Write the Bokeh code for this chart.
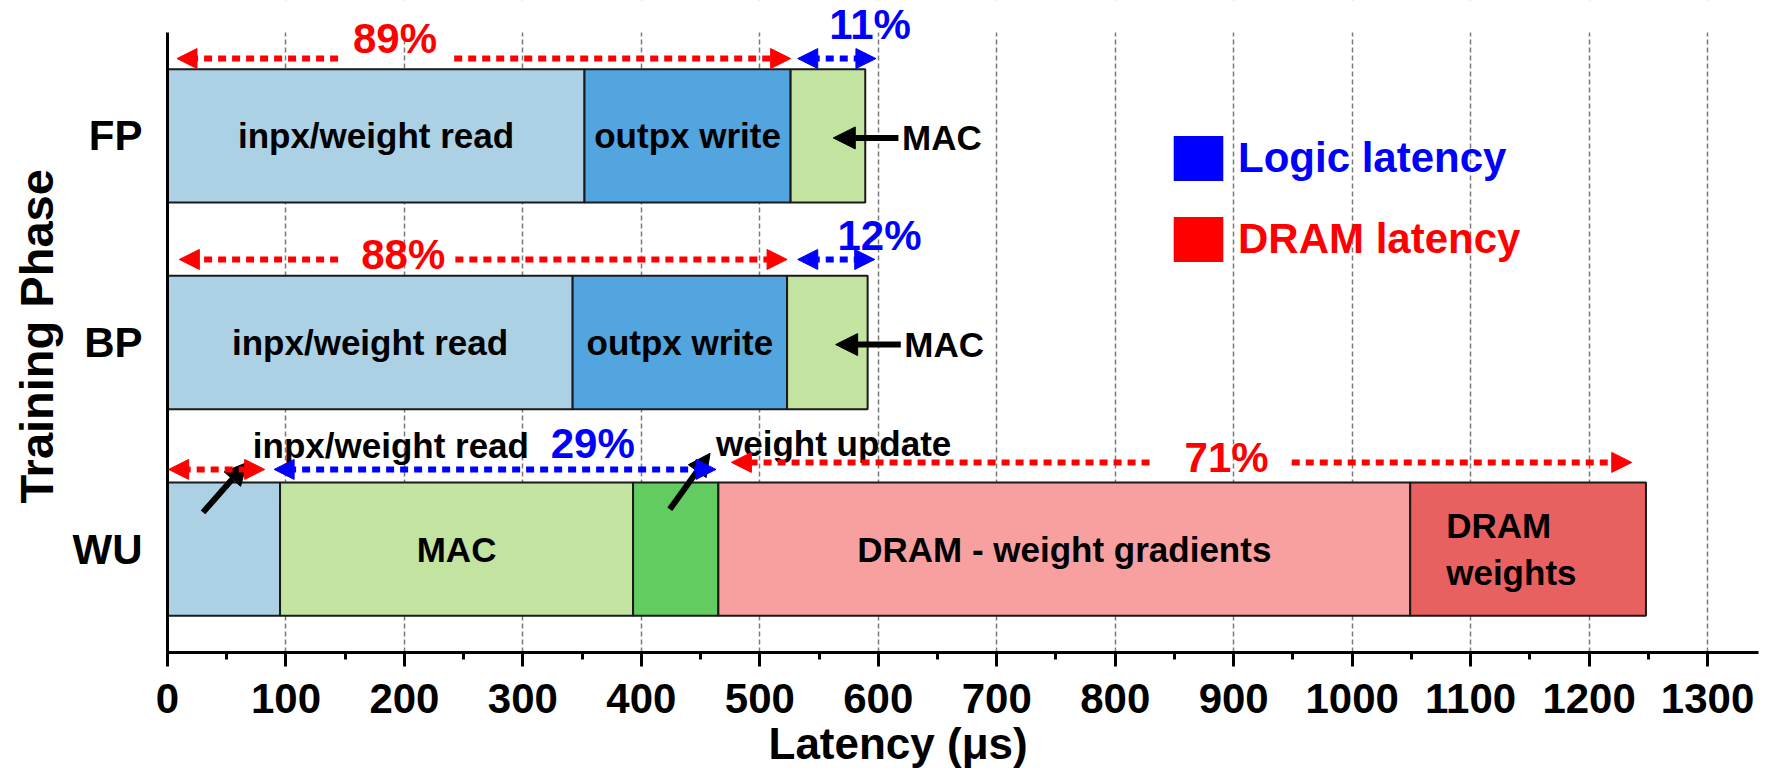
from bokeh.plotting import figure
from bokeh.models import (ColumnDataSource, Arrow, NormalHead, LabelSet, Legend, Title,
                          LegendItem, SingleIntervalTicker, FixedTicker, BoxAnnotation)
from bokeh.embed import file_html
from bokeh.resources import INLINE
from bokeh.core.properties import value, field

# ---------------- data ----------------
phases = ["WU", "BP", "FP"]                      # bottom -> top
fp_segments = ["inpx/weight read", "outpx write", "MAC"]
fp_values = [352, 174, 63]
bp_segments = ["inpx/weight read", "outpx write", "MAC"]
bp_values = [342, 181, 68]
wu_segments = ["inpx/weight read", "MAC", "weight update",
               "DRAM - weight gradients", "DRAM weights"]
wu_values = [95, 298, 72, 584, 199]
pct_dram = {"FP": "89%", "BP": "88%", "WU": "71%"}
pct_logic = {"FP": "11%", "BP": "12%", "WU": "29%"}
legend_labels = ["Logic latency", "DRAM latency"]
x_label = "Latency (\u03bcs)"
y_label = "Training Phase"

# ---------------- style ----------------
FONT = "Liberation Sans"
RED = "#FF0000"
BLUE = "#0000FF"
NAN = float("nan")
seg_colors = {"inpx/weight read": "#ACD0E4", "outpx write": "#52A5DE", "MAC": "#C3E4A0",
              "weight update": "#62CC60", "DRAM - weight gradients": "#F8A0A0",
              "DRAM weights": "#E96060"}
BAR_H = 0.645
inside_labels = {"FP": ["inpx/weight read", "outpx write"],
                 "BP": ["inpx/weight read", "outpx write"],
                 "WU": ["MAC", "DRAM - weight gradients", "DRAM weights"]}

rows = {"FP": (fp_segments, fp_values), "BP": (bp_segments, bp_values),
        "WU": (wu_segments, wu_values)}

p = figure(width=1771, height=783, output_backend="svg", toolbar_location=None,
           x_range=(0, 1343), y_range=(-0.5, 2.655),
           min_border_left=167, min_border_right=13, min_border_top=0,
           min_border_bottom=131)
p.outline_line_color = None
p.background_fill_color = "white"

# bars
q = dict(left=[], right=[], bottom=[], top=[], color=[])
t_c = dict(x=[], y=[], text=[])
t_l = dict(x=[], y=[], text=[])
bounds = {}
for name, (segs, vals) in rows.items():
    y = phases.index(name)
    start = 0
    edges = [0]
    for s, v in zip(segs, vals):
        q["left"].append(start); q["right"].append(start + v)
        q["bottom"].append(y - BAR_H / 2); q["top"].append(y + BAR_H / 2)
        q["color"].append(seg_colors[s])
        if s in inside_labels[name]:
            if s == "DRAM weights":
                t_l["x"].append(start); t_l["y"].append(y); t_l["text"].append("DRAM\nweights")
            else:
                t_c["x"].append(start + v / 2); t_c["y"].append(y); t_c["text"].append(s)
        start += v
        edges.append(start)
    bounds[name] = edges

# hide grid above the plotting area (axis stops at 2.5)
p.add_layout(BoxAnnotation(bottom=2.5, fill_color="white", fill_alpha=1.0,
                           line_color=None, level="underlay"))

p.quad(left="left", right="right", bottom="bottom", top="top", fill_color="color",
       line_color="#1a1a1a", line_width=2, source=ColumnDataSource(q))
p.text(x="x", y="y", text="text", source=ColumnDataSource(t_c), text_align="center",
       text_baseline="middle", text_font=value(FONT), text_font_style="bold",
       text_font_size="35px", text_color="black")
p.text(x="x", y="y", text="text", source=ColumnDataSource(t_l), text_align="left",
       text_baseline="middle", text_font=value(FONT), text_font_style="bold",
       text_font_size="35px", text_color="black", x_offset=36, text_line_height=1.2)

# MAC callouts for FP / BP
mac = dict(x=[], y=[], text=[])
mac_arr = dict(xs=[], ys=[], xe=[], ye=[])
for name in ["FP", "BP"]:
    tot = bounds[name][-1]
    y = phases.index(name) - 0.01
    mac["x"].append(tot + 31); mac["y"].append(y); mac["text"].append("MAC")
    mac_arr["xs"].append(tot + 28); mac_arr["ys"].append(y)
    mac_arr["xe"].append(tot - 27); mac_arr["ye"].append(y)
p.text(x="x", y="y", text="text", source=ColumnDataSource(mac), text_align="left",
       text_baseline="middle", text_font=value(FONT), text_font_style="bold",
       text_font_size="35px", text_color="black")

# WU callouts
wb = bounds["WU"]
wu_txt = dict(x=[wb[1] - 23, wb[3] - 2], y=[0.50, 0.51],
              text=["inpx/weight read", "weight update"])
p.text(x="x", y="y", text="text", source=ColumnDataSource(wu_txt), text_align="left",
       text_baseline="alphabetic", text_font=value(FONT), text_font_style="bold",
       text_font_size="35px", text_color="black")
mac_arr["xs"] += [wb[1] - 65, wb[3] - 41]
mac_arr["ys"] += [0.178, 0.193]
mac_arr["xe"] += [wb[1] - 28, wb[3] - 7]
mac_arr["ye"] += [0.419, 0.464]
p.add_layout(Arrow(source=ColumnDataSource(mac_arr), x_start="xs", y_start="ys",
                   x_end="xe", y_end="ye", line_color="black", line_width=6,
                   end=NormalHead(size=22, fill_color="black", line_color="black")))

# percentage arrows
fb, bbp = bounds["FP"], bounds["BP"]
pct = dict(x=[192, 593, 199, 601, 359, 894],
           y=[2.399, 2.471, 1.358, 1.450, 0.439, 0.372],
           text=[pct_dram["FP"], pct_logic["FP"], pct_dram["BP"], pct_logic["BP"],
                 pct_logic["WU"], pct_dram["WU"]],
           color=[RED, BLUE, RED, BLUE, BLUE, RED])
p.add_layout(LabelSet(x="x", y="y", text="text", source=ColumnDataSource(pct),
                      text_align="center", text_baseline="alphabetic",
                      text_font=value(FONT), text_font_style="bold",
                      text_font_size="42px", text_color=field("color")))

red1 = dict(xs=[pct["x"][0] - 48, pct["x"][0] + 50, pct["x"][2] - 55, pct["x"][2] + 44,
                pct["x"][5] - 65, pct["x"][5] + 55],
            xe=[8, fb[2], 10, bbp[2], wb[3] + 11, wb[5] - 12],
            y=[2.374, 2.374, 1.402, 1.402, 0.42, 0.42])
head = dict(size=20)
p.add_layout(Arrow(source=ColumnDataSource(red1), x_start="xs", y_start="y",
                   x_end="xe", y_end="y", line_color=RED, line_width=6,
                   line_dash="8 6",
                   end=NormalHead(fill_color=RED, line_color=RED, **head)))
red2 = dict(xs=[1], xe=[wb[1] - 13], y=[0.386])
p.add_layout(Arrow(source=ColumnDataSource(red2), x_start="xs", y_start="y",
                   x_end="xe", y_end="y", line_color=RED, line_width=6,
                   line_dash="8 6",
                   start=NormalHead(fill_color=RED, line_color=RED, **head),
                   end=NormalHead(fill_color=RED, line_color=RED, **head)))
blue = dict(xs=[fb[2] + 6, bbp[2] + 9, wb[1] - 5], xe=[fb[3] + 9, bbp[3] + 6, wb[3] - 2],
            y=[2.374, 1.402, 0.386])
p.add_layout(Arrow(source=ColumnDataSource(blue), x_start="xs", y_start="y",
                   x_end="xe", y_end="y", line_color=BLUE, line_width=6,
                   line_dash="8 6",
                   start=NormalHead(fill_color=BLUE, line_color=BLUE, **head),
                   end=NormalHead(fill_color=BLUE, line_color=BLUE, **head)))

# legend (proxy renderers draw nothing in the plot)
r_blue = p.quad(left=[NAN], right=[NAN], top=[NAN], bottom=[NAN], fill_color=BLUE,
                line_color=None)
r_red = p.quad(left=[NAN], right=[NAN], top=[NAN], bottom=[NAN], fill_color=RED,
               line_color=None)
for lab, r, col, loc in [(legend_labels[0], r_blue, BLUE, (1000, 466)),
                         (legend_labels[1], r_red, RED, (1000, 385))]:
    lg = Legend(items=[LegendItem(label=lab, renderers=[r])], location=loc,
                glyph_width=62, glyph_height=56, label_height=56,
                label_text_font=FONT, label_text_font_style="bold",
                label_text_font_size="42px", label_text_color=col,
                label_standoff=9, padding=0, margin=0, spacing=0,
                background_fill_alpha=0, border_line_color=None)
    p.add_layout(lg)

# axes
xa = p.xaxis[0]
xa.ticker = SingleIntervalTicker(interval=100, num_minor_ticks=2)
xa.axis_line_width = 3
xa.major_tick_line_width = 3
xa.minor_tick_line_width = 3
xa.major_tick_in = 0
xa.major_tick_out = 14
xa.minor_tick_in = 0
xa.minor_tick_out = 7
xa.major_label_text_font = FONT
xa.major_label_text_font_style = "bold"
xa.major_label_text_font_size = "42px"
xa.major_label_text_color = "black"
xa.major_label_standoff = 17
xa.axis_label_standoff = 0

ya = p.yaxis[0]
ya.ticker = FixedTicker(ticks=[0, 1, 2])
ya.bounds = (-0.5, 2.5)
ya.major_label_overrides = {0: "WU", 1: "BP", 2: "FP"}
ya.axis_line_width = 3
ya.major_tick_line_color = None
ya.major_tick_out = 0
ya.major_tick_in = 0
ya.minor_tick_line_color = None
ya.major_label_text_font = FONT
ya.major_label_text_font_style = "bold"
ya.major_label_text_font_size = "42px"
ya.major_label_text_color = "black"
ya.major_label_standoff = 25
ya.axis_label_standoff = 0

p.xgrid.ticker = SingleIntervalTicker(interval=100)
p.xgrid.grid_line_color = "#7a7a7a"
p.xgrid.grid_line_dash = "5 3"
p.xgrid.grid_line_width = 1.5
p.ygrid.visible = False

p.add_layout(Title(text=x_label, align="left", offset=601, standoff=3,
                   text_font=FONT, text_font_style="bold", text_font_size="44px",
                   text_color="black"), "below")
p.add_layout(Title(text=y_label, align="left", offset=149, standoff=13,
                   text_font=FONT, text_font_style="bold", text_font_size="47px",
                   text_color="black"), "left")

open("out.html", "w").write(file_html(p, INLINE))
